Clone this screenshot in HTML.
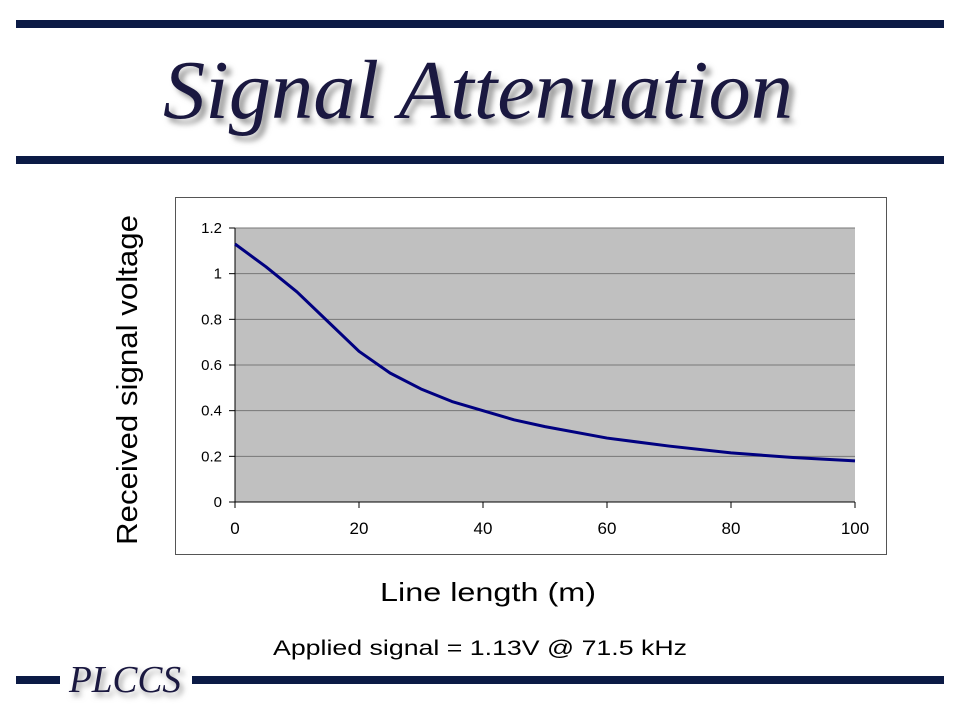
<!DOCTYPE html>
<html><head><meta charset="utf-8"><style>
body{margin:0;background:#fff;width:960px;height:720px;overflow:hidden}
</style></head><body>
<svg width="960" height="720" xmlns="http://www.w3.org/2000/svg" font-family="Liberation Sans, sans-serif">
<defs><filter id="sh" x="-10%" y="-10%" width="130%" height="140%"><feGaussianBlur stdDeviation="3"/></filter></defs>
<rect x="16" y="20" width="928" height="8" fill="#0b1a45"/>
<rect x="16" y="156" width="928" height="8" fill="#0b1a45"/>
<g>
<text x="168" y="123" font-family="Liberation Serif, serif" font-style="italic" font-size="84" fill="#999" filter="url(#sh)" textLength="630" lengthAdjust="spacingAndGlyphs">Signal Attenuation</text>
<text x="163" y="118" font-family="Liberation Serif, serif" font-style="italic" font-size="84" fill="#1a1840" textLength="630" lengthAdjust="spacingAndGlyphs">Signal Attenuation</text>
</g>
<rect x="175.5" y="197.5" width="711" height="357" fill="#fff" stroke="#555" stroke-width="1"/>
<rect x="235" y="228" width="620" height="274" fill="#c0c0c0"/>
<g id="grid"></g><g id="ticks" font-size="15" fill="#000"></g>
<path id="curve" fill="none" stroke="#000080" stroke-width="3" stroke-linejoin="round"/>
<text transform="translate(137,380) rotate(-90)" text-anchor="middle" font-size="29" textLength="330" lengthAdjust="spacingAndGlyphs">Received signal voltage</text>
<text x="488" y="601" text-anchor="middle" font-size="26" textLength="216" lengthAdjust="spacingAndGlyphs">Line length (m)</text>
<text x="480" y="655" text-anchor="middle" font-size="21" textLength="414" lengthAdjust="spacingAndGlyphs">Applied signal = 1.13V @ 71.5 kHz</text>
<rect x="16" y="676" width="44" height="8" fill="#0b1a45"/>
<rect x="192" y="676" width="752" height="8" fill="#0b1a45"/>
<g>
<text x="72" y="696" font-family="Liberation Serif, serif" font-style="italic" font-size="38" fill="#999" filter="url(#sh)" textLength="112" lengthAdjust="spacingAndGlyphs">PLCCS</text>
<text x="69" y="692" font-family="Liberation Serif, serif" font-style="italic" font-size="38" fill="#1a1840" textLength="112" lengthAdjust="spacingAndGlyphs">PLCCS</text>
</g>
</svg>
<script>
const xVals=[0,5,10,15,20,25,30,35,40,45,50,60,70,80,90,100];
const yVals=[1.13,1.03,0.92,0.79,0.66,0.565,0.495,0.44,0.40,0.36,0.33,0.28,0.245,0.215,0.195,0.18];
const xTicks=[0,20,40,60,80,100];
const yTicks=[0,0.2,0.4,0.6,0.8,1,1.2];
const sx=v=>235+v/100*620, sy=v=>502-v/1.2*274;
const NS="http://www.w3.org/2000/svg";
const g=document.getElementById('grid'),t=document.getElementById('ticks');
yTicks.forEach(v=>{
 const l=document.createElementNS(NS,'line');
 
 
 l.setAttribute('x1',235);l.setAttribute('x2',855);l.setAttribute('y1',sy(v));l.setAttribute('y2',sy(v));
 l.setAttribute('stroke',v===0?'#000':'#777');l.setAttribute('stroke-width',1);g.appendChild(l);
 const k=document.createElementNS(NS,'line');k.setAttribute('x1',229);k.setAttribute('x2',235);k.setAttribute('y1',sy(v));k.setAttribute('y2',sy(v));k.setAttribute('stroke','#000');g.appendChild(k);
 const s=document.createElementNS(NS,'text');
 
 
 s.setAttribute('x',222);s.setAttribute('y',sy(v)+5);s.setAttribute('text-anchor','end');s.textContent=v;t.appendChild(s);
});
const ax=document.createElementNS(NS,'line');ax.setAttribute('x1',235);ax.setAttribute('x2',235);ax.setAttribute('y1',228);ax.setAttribute('y2',502);ax.setAttribute('stroke','#000');g.appendChild(ax);
xTicks.forEach(v=>{
 const k=document.createElementNS(NS,'line');k.setAttribute('x1',sx(v));k.setAttribute('x2',sx(v));k.setAttribute('y1',502);k.setAttribute('y2',508);k.setAttribute('stroke','#000');g.appendChild(k);
 const s=document.createElementNS(NS,'text');
 
 
 s.setAttribute('x',sx(v));s.setAttribute('y',534);s.setAttribute('text-anchor','middle');s.setAttribute('font-size','17');s.textContent=v;t.appendChild(s);
});
document.getElementById('curve').setAttribute('d',xVals.map((x,i)=>(i?'L':'M')+sx(x)+' '+sy(yVals[i])).join(' '));
</script>
</body></html>
